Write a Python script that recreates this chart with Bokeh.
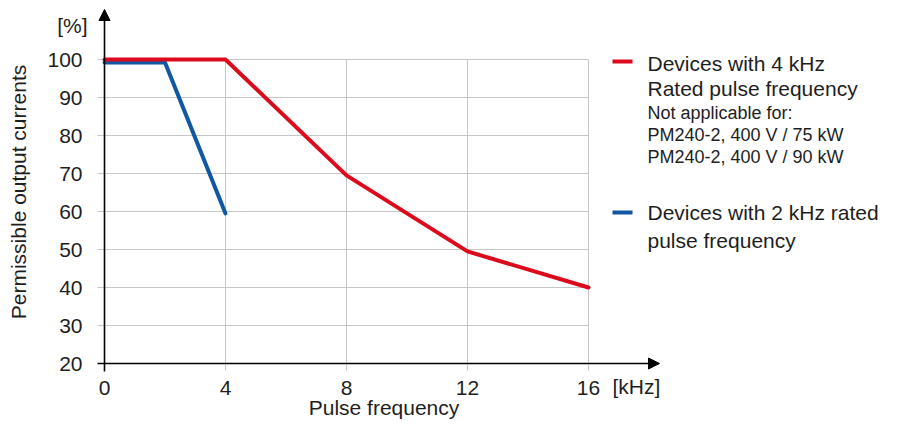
import math
from bokeh.plotting import figure
from bokeh.models import Range1d, FixedTicker, Label, Arrow, NormalHead
from bokeh.embed import file_html
from bokeh.resources import INLINE

# ---------------- data ----------------
freq_4k = [0, 4, 8, 12, 16]
curr_4k = [100, 100, 69.5, 49.5, 40]
freq_2k = [0, 2, 4]
curr_2k = [99.2, 99.2, 59.5]

x_ticks = [0, 4, 8, 12, 16]
y_ticks = [20, 30, 40, 50, 60, 70, 80, 90, 100]
grid_y = [30, 40, 50, 60, 70, 80, 90, 100]
grid_x = [4, 8, 12, 16]

legend_4k = ["Devices with 4 kHz", "Rated pulse frequency"]
legend_4k_note = ["Not applicable for:", "PM240-2, 400 V / 75 kW", "PM240-2, 400 V / 90 kW"]
legend_2k = ["Devices with 2 kHz rated", "pulse frequency"]

RED = "#dc0a1c"
BLUE = "#1257a3"
TXT = "#1e1e1e"
GRID = "#c6c6c6"
FONT = "Liberation Sans"

# picture-pixel -> data helpers (layout positions only)
PX0, PXK = 104.0, 30.25     # picture x of 0 kHz, px per kHz
PY20, PYU = 363.0, 3.8      # picture y of 20 %, px per %
def xd(px):
    return (px - PX0) / PXK
def yd(py):
    return 20 + (PY20 - py) / PYU

W, H = 881, 419
p = figure(width=W, height=H, output_backend="svg", toolbar_location=None,
           x_range=Range1d(xd(0), xd(W)),
           y_range=Range1d(yd(H), yd(0)),
           min_border_left=0, min_border_right=0, min_border_top=0,
           min_border_bottom=0)
p.outline_line_color = None
p.grid.visible = False
p.background_fill_color = "white"

# axes: placed at the data origin, showing tick labels
for ax in (p.xaxis, p.yaxis):
    ax.axis_line_color = None
    ax.major_tick_line_color = None
    ax.minor_tick_line_color = None
    ax.major_label_text_font = FONT
    ax.major_label_text_font_size = "21px"
    ax.major_label_text_color = TXT
p.xaxis.ticker = FixedTicker(ticks=x_ticks)
p.yaxis.ticker = FixedTicker(ticks=y_ticks)
p.xaxis.fixed_location = 20
p.yaxis.fixed_location = 0
p.xaxis.major_label_standoff = 11
p.yaxis.major_label_standoff = 16

# grid lines (with small outward stubs)
p.segment(x0=[xd(97)] * len(grid_y), y0=grid_y, x1=[16] * len(grid_y), y1=grid_y,
          line_color=GRID, line_width=1)
p.segment(x0=grid_x, y0=[yd(370)] * len(grid_x), x1=grid_x, y1=[100] * len(grid_x),
          line_color=GRID, line_width=1)

# data lines
p.line(freq_2k, curr_2k, line_color=BLUE, line_width=4, line_join="round", line_cap="round")
p.line(freq_4k, curr_4k, line_color=RED, line_width=4, line_join="round", line_cap="round")

# axis lines with arrow heads
p.add_layout(Arrow(x_start=xd(97), y_start=20, x_end=xd(659), y_end=20,
                   line_color="black", line_width=1.6,
                   end=NormalHead(size=11, fill_color="black", line_color="black", line_width=1)))
p.add_layout(Arrow(x_start=0, y_start=yd(371), x_end=0, y_end=yd(9),
                   line_color="black", line_width=1.6,
                   end=NormalHead(size=11, fill_color="black", line_color="black", line_width=1)))

def lab(text, px, py, size="21px", align="left", angle=0.0):
    p.add_layout(Label(x=xd(px), y=yd(py), text=text, text_font=FONT,
                       text_font_size=size, text_color=TXT, text_align=align,
                       text_baseline="middle", angle=angle))

# unit labels and axis titles
lab("[%]", 87, 25, align="right")
lab("[kHz]", 612, 385.5)
lab("Pulse frequency", 383.5, 406.5, align="center")
lab("Permissible output currents", 17.5, 191.5, align="center", angle=math.pi / 2)

# legend
LX0, LX1, TX = 612, 632, 647
p.segment(x0=[xd(LX0)], y0=[yd(61)], x1=[xd(LX1)], y1=[yd(61)], line_color=RED, line_width=4)
p.segment(x0=[xd(LX0)], y0=[yd(212)], x1=[xd(LX1)], y1=[yd(212)], line_color=BLUE, line_width=4)
for t, py in zip(legend_4k, [62.5, 88]):
    lab(t, TX, py)
for t, py in zip(legend_4k_note, [112, 134, 156.5]):
    lab(t, TX, py, size="18px")
for t, py in zip(legend_2k, [211.5, 239.5]):
    lab(t, TX, py)

open("out.html", "w").write(file_html(p, INLINE))
